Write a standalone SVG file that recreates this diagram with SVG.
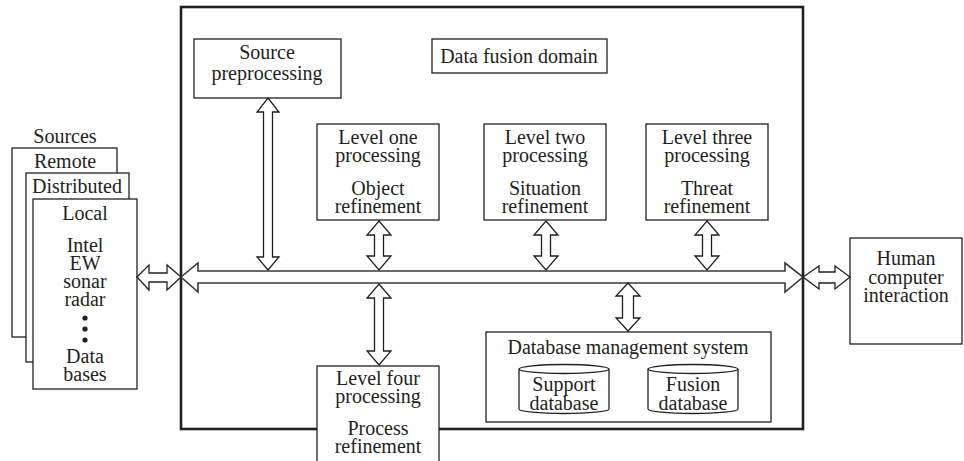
<svg xmlns="http://www.w3.org/2000/svg" width="964" height="461" viewBox="0 0 964 461">
<style>
.b{fill:#fff;stroke:#231f20;stroke-width:1.3}
.big{fill:none;stroke:#231f20;stroke-width:2.6}
.ar{fill:#fff;stroke:#231f20;stroke-width:1.3;stroke-linejoin:miter}
.bus{fill:#fff;stroke:#3a3a3a;stroke-width:1.6}
.t{font-family:'Liberation Serif','Times New Roman','DejaVu Serif',serif;font-size:20px;fill:#231f20;text-anchor:middle}
</style>
<rect width="964" height="461" fill="#fff"/>
<g id="domain"><rect class="big" x="181" y="7" width="622" height="422"/></g>
<g class="t" font-family="Liberation Serif, serif">
<g id="sources">
<text x="65" y="143">Sources</text>
<rect class="b" x="12" y="148" width="105" height="189"/>
<text x="65" y="168">Remote</text>
<rect class="b" x="26" y="173" width="103" height="189"/>
<text x="77" y="193">Distributed</text>
<rect class="b" x="33" y="199" width="104" height="190"/>
<text x="85" y="220">Local</text>
<text x="85" y="252">Intel</text>
<text x="85" y="270">EW</text>
<text x="85" y="288">sonar</text>
<text x="85" y="306">radar</text>
<circle cx="85" cy="318" r="2.6" fill="#231f20"/>
<circle cx="85" cy="329" r="2.6" fill="#231f20"/>
<circle cx="85" cy="340" r="2.6" fill="#231f20"/>
<text x="85" y="363">Data</text>
<text x="85" y="381">bases</text>
</g>
<g id="source-preprocessing">
<rect class="b" x="194" y="39" width="147" height="59"/>
<text x="267" y="59">Source</text>
<text x="267" y="80">preprocessing</text>
</g>
<g id="data-fusion-domain-label">
<rect class="b" x="432" y="39" width="175" height="34"/>
<text x="519" y="63">Data fusion domain</text>
</g>
<g id="level-one">
<rect class="b" x="317" y="124" width="122" height="96"/>
<text x="378" y="144">Level one</text>
<text x="378" y="162">processing</text>
<text x="378" y="195">Object</text>
<text x="378" y="213">refinement</text>
</g>
<g id="level-two">
<rect class="b" x="484" y="124" width="122" height="96"/>
<text x="545" y="144">Level two</text>
<text x="545" y="162">processing</text>
<text x="545" y="195">Situation</text>
<text x="545" y="213">refinement</text>
</g>
<g id="level-three">
<rect class="b" x="646" y="124" width="122" height="96"/>
<text x="707" y="144">Level three</text>
<text x="707" y="162">processing</text>
<text x="707" y="195">Threat</text>
<text x="707" y="213">refinement</text>
</g>
<g id="human">
<rect class="b" x="850" y="238" width="112" height="106"/>
<text x="906" y="265">Human</text>
<text x="906" y="284">computer</text>
<text x="906" y="302">interaction</text>
</g>
<g id="dbms">
<rect class="b" x="486" y="332" width="285" height="90"/>
<text x="628" y="354">Database management system</text>
<path class="b" d="M519,369 V409 A45,4.5 0 0 0 609,409 V369"/>
<ellipse class="b" cx="564" cy="369" rx="45" ry="4.5"/>
<text x="564" y="391">Support</text>
<text x="564" y="410">database</text>
<path class="b" d="M648,369 V409 A45,4.5 0 0 0 738,409 V369"/>
<ellipse class="b" cx="693" cy="369" rx="45" ry="4.5"/>
<text x="693" y="391">Fusion</text>
<text x="693" y="410">database</text>
</g>
<g id="level-four">
<rect class="b" x="317" y="366" width="122" height="100"/>
<text x="378" y="385">Level four</text>
<text x="378" y="403">processing</text>
<text x="378" y="435">Process</text>
<text x="378" y="453">refinement</text>
</g>
</g>
<g id="connectors">
<polygon class="bus" points="181,277 198,263 198,271 785,271 785,263 803,277 785,292 785,283 198,283 198,292"/>
<polygon class="ar" points="137,277 149,265 149,273 167,273 167,265 181,277 167,290 167,282 149,282 149,290"/>
<polygon class="ar" points="803,277 819,266 819,272 835,272 835,266 850,277 835,289 835,283 819,283 819,289"/>
<polygon class="ar" points="268,98 279,112 272.5,112 272.5,257 279,257 268,270 257,257 263.5,257 263.5,112 257,112"/>
<polygon class="ar" points="379,221 391,235 383.5,235 383.5,256 391,256 379,270 367,256 374.5,256 374.5,235 367,235"/>
<polygon class="ar" points="546,221 558,235 550.5,235 550.5,256 558,256 546,270 534,256 541.5,256 541.5,235 534,235"/>
<polygon class="ar" points="707,221 719,235 711.5,235 711.5,256 719,256 707,270 695,256 702.5,256 702.5,235 695,235"/>
<polygon class="ar" points="379,284 391,298 383.5,298 383.5,351 391,351 379,365 367,351 374.5,351 374.5,298 367,298"/>
<polygon class="ar" points="628,283 640,296 633.5,296 633.5,318 640,318 628,331 616,318 622.5,318 622.5,296 616,296"/>
</g>
</svg>
